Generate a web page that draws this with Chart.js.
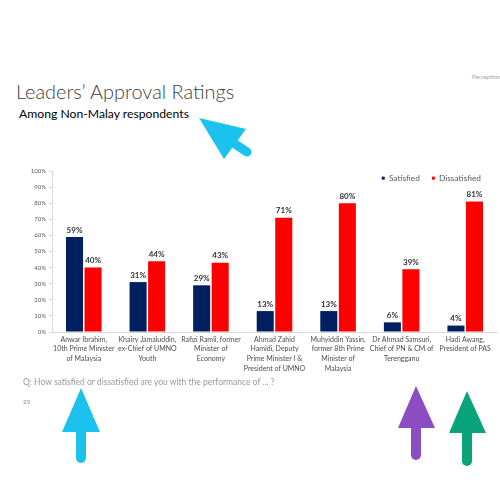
<!DOCTYPE html>
<html>
<head>
<meta charset="utf-8">
<script src="https://cdn.jsdelivr.net/npm/chart.js@4"></script>
<style>
  html, body { margin: 0; padding: 0; background: #fff; }
  body { width: 500px; height: 483px; position: relative; overflow: hidden; font-family: Lato, sans-serif; }
  .title { position: absolute; left: 16px; top: 79px; font-size: 19.9px; font-weight: 300; color: #404040; white-space: nowrap; }
  .subtitle { position: absolute; left: 19px; top: 106px; font-size: 12.2px; color: #000; white-space: nowrap; }
  .brand { position: absolute; left: 472px; top: 73px; font-size: 6px; color: #a6a6a6; white-space: nowrap; }
  .question { position: absolute; left: 23px; top: 377px; font-size: 8.5px; color: #9a9a9a; white-space: nowrap; }
  .page { position: absolute; left: 23px; top: 398px; font-size: 6.5px; color: #8a8a8a; }
  .chart-wrap { position: absolute; left: 0; top: 150px; width: 500px; height: 232px; }
  svg.marks { position: absolute; left: 0; top: 0; pointer-events: none; }
</style>
</head>
<body>
<div class="title">Leaders’ Approval Ratings</div>
<div class="subtitle">Among Non-Malay respondents</div>
<div class="brand">Perception</div>
<div class="chart-wrap"><canvas id="approval"></canvas></div>
<div class="question">Q: How satisfied or dissatisfied are you with the performance of ... ?</div>
<div class="page">25</div>

<svg class="marks" width="500" height="483">
  <g fill="#1cc2ee" stroke="#1cc2ee">
    <polygon points="199,118 246,129 224,159" stroke="none"/>
    <line x1="235" y1="144" x2="247" y2="152" stroke-width="9" stroke-linecap="round"/>
    <polygon points="81,388 62,432 100,432" stroke="none"/>
    <line x1="81" y1="430" x2="81" y2="458" stroke-width="10" stroke-linecap="round"/>
  </g>
  <g fill="#8c4dc3" stroke="#8c4dc3">
    <polygon points="416,386 398,428 435,428" stroke="none"/>
    <line x1="416" y1="426" x2="416" y2="455" stroke-width="10" stroke-linecap="round"/>
  </g>
  <g fill="#0aa37a" stroke="#0aa37a">
    <polygon points="467,391 449,433 486,433" stroke="none"/>
    <line x1="467" y1="431" x2="467" y2="461" stroke-width="10" stroke-linecap="round"/>
  </g>
</svg>

<script>
const leaders = [
  ['Anwar Ibrahim,', '10th Prime Minister', 'of Malaysia'],
  ['Khairy Jamaluddin,', 'ex-Chief of UMNO', 'Youth'],
  ['Rafizi Ramli, former', 'Minister of', 'Economy'],
  ['Ahmad Zahid', 'Hamidi, Deputy', 'Prime Minister I &', 'President of UMNO'],
  ['Muhyiddin Yassin,', 'former 8th Prime', 'Minister of', 'Malaysia'],
  ['Dr Ahmad Samsuri,', 'Chief of PN & CM of', 'Terengganu'],
  ['Hadi Awang,', 'President of PAS']
];
const satisfied = [59, 31, 29, 13, 13, 6, 4];
const dissatisfied = [40, 44, 43, 71, 80, 39, 81];
const yTicks = [0, 10, 20, 30, 40, 50, 60, 70, 80, 90, 100];

// legend sits inside the plot, top right, like the slide
const legendInside = {
  id: 'legendInside',
  beforeInit(chart) {
    const fit = chart.legend.fit;
    chart.legend.fit = function () { fit.call(this); this.height = 0; };
  },
  afterLayout(chart) {
    const lg = chart.legend;
    lg.top = chart.chartArea.top - 9;
    lg.bottom = lg.top + 34;
    lg.right -= 4;
  }
};

// value labels above each bar
const barLabels = {
  id: 'barLabels',
  afterDatasetsDraw(chart) {
    const ctx = chart.ctx;
    ctx.save();
    ctx.font = 'bold 8px Lato';
    ctx.fillStyle = '#333';
    ctx.textAlign = 'center';
    ctx.textBaseline = 'bottom';
    chart.data.datasets.forEach((ds, i) => {
      chart.getDatasetMeta(i).data.forEach((bar, j) => {
        ctx.fillText(ds.data[j] + '%', bar.x, bar.y - 3);
      });
    });
    ctx.restore();
  }
};

new Chart(document.getElementById('approval'), {
  type: 'bar',
  data: {
    labels: leaders,
    datasets: [
      { label: 'Satisfied', data: satisfied, backgroundColor: '#002060' },
      { label: 'Dissatisfied', data: dissatisfied, backgroundColor: '#ff0000' }
    ]
  },
  options: {
    responsive: true,
    maintainAspectRatio: false,
    animation: false,
    categoryPercentage: 0.583,
    barPercentage: 0.92,
    layout: { padding: { top: 21, left: 22, right: 3, bottom: 0 } },
    plugins: {
      tooltip: { enabled: false },
      legend: {
        position: 'top',
        align: 'end',
        labels: {
          boxWidth: 3,
          boxHeight: 3,
          padding: 12,
          color: '#595959',
          font: { family: 'Lato', size: 8.3 }
        }
      }
    },
    scales: {
      x: {
        grid: { display: false, drawTicks: false },
        border: { display: true, color: '#d9d9d9' },
        ticks: {
          autoSkip: false,
          maxRotation: 0,
          padding: 2.5,
          color: '#4d4d4d',
          font: { family: 'Lato', size: 7, lineHeight: 1.4 }
        },
        afterFit(axis) { axis.height = 50; }
      },
      y: {
        min: 0,
        max: 100,
        afterBuildTicks(axis) { axis.ticks = yTicks.map(v => ({ value: v })); },
        grid: { display: true, drawOnChartArea: false, drawTicks: true, tickLength: 3, color: '#d9d9d9' },
        border: { display: true, color: '#d9d9d9' },
        ticks: {
          padding: 3,
          color: '#595959',
          font: { family: 'Lato', size: 6 },
          callback: v => v + '%'
        },
        afterFit(axis) { axis.width = 30; }
      }
    }
  },
  plugins: [legendInside, barLabels]
});
</script>
</body>
</html>
